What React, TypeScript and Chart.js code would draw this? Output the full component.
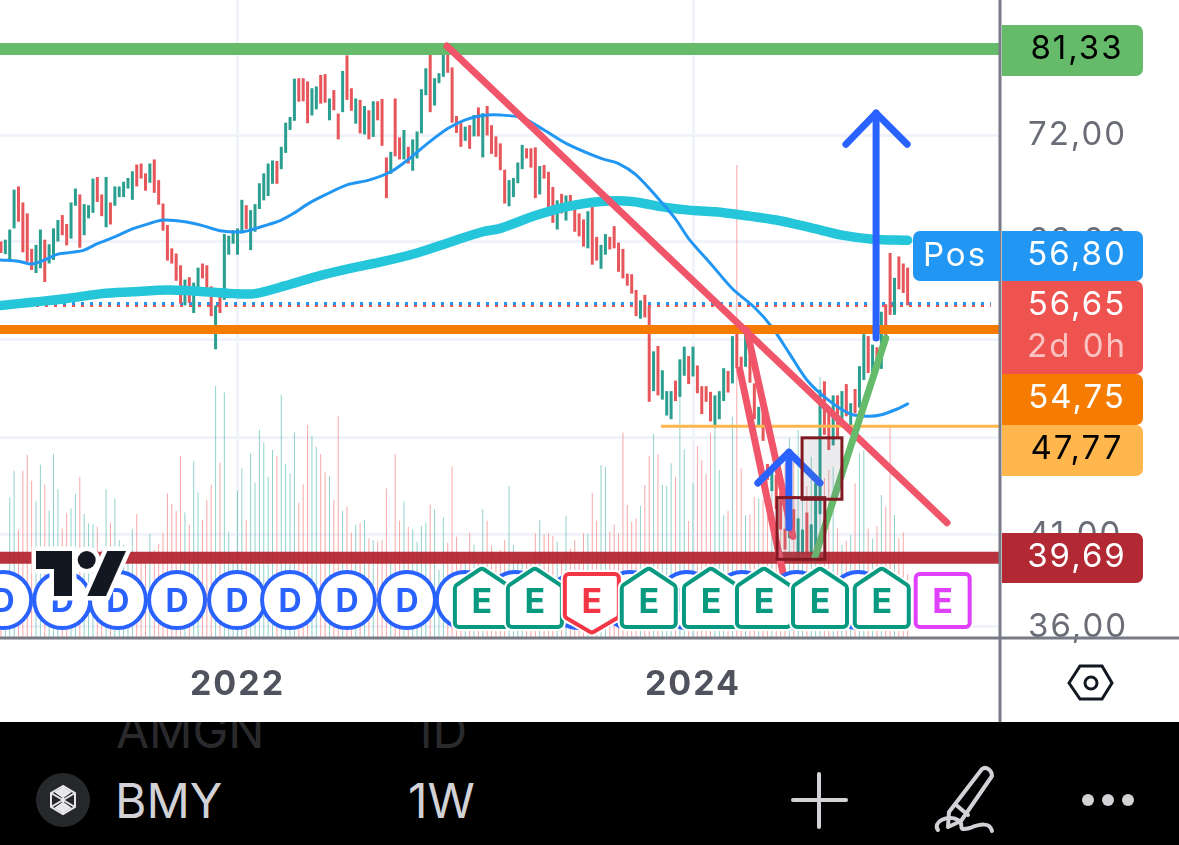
import React, { useEffect, useRef } from "react";
import { Chart, registerables } from "chart.js";

Chart.register(...registerables);

const firstWeek = -54;
const opens = [
  62.0, 60.9, 60.4, 63.15, 67.0, 65.5, 64.5, 61.35, 59.3, 59.7,
  62.15, 60.1, 60.4, 62.0, 64.35, 63.55, 62.25, 65.2, 66.25, 62.55,
  64.05, 64.55, 67.9, 66.25, 63.25, 65.5, 65.2, 66.0, 66.0, 66.8,
  65.75, 69.1, 69.2, 68.25, 67.35, 69.6, 67.6, 65.4, 63.45, 61.4,
  60.95, 59.95, 56.65, 58.95, 56.05, 58.1, 60.1, 59.95, 58.2, 53.25,
  57.7, 57.1, 60.85, 61.8, 60.85, 62.7, 65.25, 61.25, 62.85, 64.9,
  65.7, 66.1, 67.25, 69.45, 68.65, 70.25, 72.55, 73.5, 78.05, 78.05,
  77.7, 74.05, 74.7, 78.4, 78.5, 73.55, 76.75, 74.25, 74.4, 80.6,
  76.95, 73.2, 75.7, 72.1, 74.6, 71.85, 75.55, 75.8, 69.8, 68.2,
  75.85, 71.8, 69.6, 70.85, 68.5, 69.7, 72.2, 76.2, 81.0, 75.1,
  77.5, 78.2, 81.2, 79.25, 74.0, 73.25, 71.45, 73.05, 71.9, 74.9,
  69.8, 75.05, 73.05, 71.9, 71.2, 68.6, 65.15, 66.0, 67.3, 68.65,
  70.7, 70.7, 70.8, 66.25, 69.05, 68.4, 66.95, 63.05, 66.3, 63.85,
  66.2, 64.85, 64.5, 63.95, 61.4, 65.15, 62.4, 59.65, 60.85, 62.4,
  63.35, 61.9, 61.35, 59.25, 59.2, 57.9, 55.6, 57.5, 56.65, 50.2,
  53.5, 49.6, 48.5, 48.25, 50.95, 49.8, 51.3, 52.75, 51.25, 52.05,
  50.55, 50.55, 50.15, 47.7, 48.25, 49.5, 51.65, 50.75, 54.75, 52.7,
  51.95, 54.05, 50.75, 47.75, 49.5, 45.3, 43.6, 44.6, 43.5, 41.35,
  40.8, 42.5, 39.7, 39.9, 42.3, 39.6, 39.9, 42.2, 50.9, 48.75,
  46.5, 49.9, 47.8, 50.7, 47.6, 50.35, 49.05, 51.0, 54.25, 51.3,
  53.4, 51.8, 56.75, 61.0, 55.9, 60.7, 60.1, 59.75,
];
const closes = [
  61.0, 62.15, 63.05, 66.7, 63.75, 61.05, 60.25, 59.55, 61.7, 63.05,
  58.55, 61.75, 63.15, 63.9, 62.55, 61.65, 65.5, 66.8, 61.45, 65.35,
  65.25, 67.75, 65.55, 64.25, 67.9, 63.5, 67.0, 67.0, 67.45, 67.8,
  68.45, 67.0, 67.75, 66.6, 69.2, 66.4, 65.3, 62.95, 60.35, 60.1,
  58.65, 56.8, 58.75, 56.85, 58.5, 59.75, 58.85, 57.7, 55.8, 56.65,
  56.05, 62.65, 62.5, 63.0, 63.15, 65.75, 63.1, 64.8, 65.35, 67.3,
  68.25, 69.2, 69.5, 67.25, 70.85, 73.3, 73.9, 78.0, 75.5, 75.55,
  73.25, 76.95, 77.15, 75.3, 75.4, 75.85, 74.6, 71.6, 78.85, 75.7,
  74.55, 75.85, 72.2, 75.05, 71.6, 75.55, 73.55, 70.95, 65.9, 70.35,
  69.9, 69.6, 72.55, 69.2, 71.6, 72.4, 76.85, 79.15, 74.4, 78.05,
  78.6, 81.3, 78.65, 73.3, 72.25, 70.85, 72.9, 70.65, 74.1, 71.9,
  74.3, 72.0, 70.15, 69.85, 68.55, 65.4, 67.6, 67.8, 69.3, 71.05,
  69.7, 68.8, 65.9, 68.95, 67.75, 65.0, 63.65, 65.7, 64.5, 66.15,
  64.95, 62.85, 62.45, 61.55, 64.7, 60.0, 60.35, 61.7, 62.65, 61.3,
  61.4, 59.4, 58.85, 58.25, 57.6, 55.8, 57.05, 55.7, 49.45, 53.1,
  49.9, 51.7, 50.2, 50.2, 49.5, 52.5, 53.45, 50.7, 53.45, 50.05,
  48.6, 49.45, 48.1, 49.9, 50.2, 51.85, 50.1, 54.25, 51.85, 51.1,
  54.35, 50.8, 48.25, 49.1, 46.8, 44.3, 44.8, 42.5, 41.3, 40.15,
  42.9, 40.8, 41.95, 41.3, 39.8, 41.6, 44.1, 50.3, 47.2, 46.2,
  49.9, 47.0, 50.2, 48.45, 49.35, 48.65, 52.0, 54.4, 51.5, 53.6,
  51.8, 56.15, 53.95, 55.9, 58.9, 57.95, 57.65, 56.65,
];
const volumes = [
  15, 16, 35.2, 41.8, 27, 41.8, 45.8, 39.3, 34.1, 43.3,
  38.4, 31.8, 46, 37.2, 27.4, 31.2, 32.4, 36, 40.3, 31,
  28.7, 28.5, 27.8, 22, 37.2, 28.8, 34.8, 24.5, 23.3, 21.2,
  27.2, 31, 20.3, 18.7, 26, 22, 23.5, 26.3, 36.2, 33.5,
  31.8, 45.5, 31.4, 28.3, 44.1, 36.4, 29.5, 34.5, 38.3, 63,
  43.8, 61.4, 26.6, 19.5, 36.8, 42.4, 29.5, 46.2, 38.9, 52,
  48.9, 40.3, 47, 45.5, 60.8, 43.5, 41.2, 51.4, 33.8, 38.4,
  53.3, 50.5, 47.8, 46, 41.4, 40.5, 34.5, 55.5, 31.8, 32.8,
  26.3, 28.3, 28.8, 29.5, 24.9, 24.5, 24.1, 24.5, 37.4, 19.5,
  46, 29.3, 34.1, 27.8, 27.2, 24.1, 28, 28.9, 33.3, 32.2,
  17, 30.1, 23.8, 42.8, 25.3, 19.5, 20.8, 26.4, 23.3, 18.7,
  32.2, 29.3, 23.1, 20.3, 22, 24.5, 38, 23.25, 20.3, 20.3,
  19.5, 19.5, 26.2, 29.5, 25.9, 26.2, 25.5, 24.1, 19.5, 30.5,
  22.4, 24.5, 19.5, 26.2, 26, 36.3, 29.3, 43.25, 42.8, 26.6,
  28.4, 26.2, 51.4, 33.25, 29, 29.9, 33, 38.25, 45.5, 51,
  45.9, 38.25, 38, 43.7, 40.2, 60.3, 47.2, 29.25, 38.7, 48,
  44.5, 41, 51.2, 54.5, 42, 30.7, 31.75, 55.3, 118.25, 42.4,
  30.7, 30.9, 35.3, 34.9, 34.5, 40, 43.7, 35, 40, 43.7,
  50, 45, 52, 47.4, 38, 45.3, 40, 65.3, 40, 42,
  42.8, 27.4, 23.25, 24.3, 25.75, 38.7, 46.2, 47, 27.4, 24.9,
  28, 35.75, 32.8, 53.25, 30.75, 25, 26.4, 16,
];

const fastMaWeeks = [-54, -50, -47, -44, -41, -38, -35, -32, -28, -24, -20, -17, -12, -8, -4, 1, 5, 10, 13, 16, 20, 25, 30, 35, 39, 43, 48, 52, 56, 60, 65, 70, 75, 83, 87, 91, 96, 100, 103, 108, 113, 118, 122, 126, 130, 135, 140, 144, 147, 151, 153];
const fastMaValues = [60.4, 60.3, 60.05, 60.4, 60.9, 61.05, 61.25, 61.8, 62.4, 63.1, 63.6, 63.9, 63.75, 63.4, 62.95, 62.85, 63.25, 63.9, 64.55, 65.35, 66.2, 67.15, 67.6, 68.4, 69.6, 71.05, 72.7, 73.6, 74.05, 74.1, 73.8, 72.55, 71.2, 69.7, 69.2, 68.1, 65.9, 64.0, 62.25, 60.1, 58.0, 56.5, 54.95, 52.95, 51.0, 49.55, 48.6, 48.45, 48.55, 49.0, 49.3];
const slowMaWeeks = [-54, -47, -39, -31, -24, -16, -9, -1, 4, 11, 18, 26, 33, 41, 49, 56, 60, 68, 75, 83, 90, 97, 103, 109, 117, 123, 131, 138, 145, 153];
const slowMaValues = [56.65, 56.9, 57.2, 57.6, 57.75, 57.9, 57.8, 57.6, 57.6, 58.25, 59.0, 59.7, 60.25, 61.0, 62.0, 62.85, 63.15, 64.3, 65.1, 65.6, 65.6, 65.1, 64.8, 64.65, 64.25, 63.9, 63.2, 62.55, 62.2, 62.1];

const priceTicks = [72, 62, 54, 47, 41, 36];
const yearTicks = [0, 104];
const yearLabels = ["2022", "2024"];
const xMin = -54.22;
const xMax = 174.09;
const yMax = 87.15;
const yMin = 35.44;

const levelHigh = 81.33;
const levelPos = 56.8;
const levelLast = 56.65;
const levelOrange = 54.75;
const levelAmber = 47.77;
const amberStart = 96.7;
const levelLow = 39.69;

const downTrendWeeks = [47.8, 162];
const downTrendPrices = [81.67, 41.7];
const dropAWeeks = [114.7, 124.5];
const dropAPrices = [51.7, 38.9];
const dropBWeeks = [116.3, 126.8];
const dropBPrices = [54.7, 40.9];
const riseWeeks = [131.8, 148];
const risePrices = [39.7, 54.1];
const bigShaftWeeks = [145.8, 145.8];
const bigShaftPrices = [54.1, 74.3];
const bigHeadWeeks = [138.9, 145.8, 152.9];
const bigHeadPrices = [71.1, 74.3, 71.1];
const smallShaftWeeks = [125.9, 125.9];
const smallShaftPrices = [41.4, 46.06];
const smallHeadWeeks = [118.8, 125.9, 133];
const smallHeadPrices = [44.1, 46.06, 44.1];
const boxA = [123.2, 134.1, 43.2, 39.6];
const boxB = [128.9, 138, 47, 43.1];

const dividendWeeks = [-53.5, -40, -27.3, -13.8, -0.1, 12, 25, 38.7, 51.9, 63.4, 77.8, 89.6, 102.6, 115.2, 127.7, 141.7];
const earningsWeeks = [55.8, 67.9, 80.9, 93.9, 108.1, 120.2, 133, 147.1, 161];
const earningsKinds = ["up", "up", "down", "up", "up", "up", "up", "up", "next"];

const priceTags = [
  { top: 25, h: 51, bg: "#66bb6a", fg: "#000000", text: "81,33", sub: "" },
  { top: 231, h: 50, bg: "#2196f3", fg: "#ffffff", text: "56,80", sub: "" },
  { top: 281, h: 93, bg: "#ef5350", fg: "#ffffff", text: "56,65", sub: "2d 0h" },
  { top: 374, h: 51, bg: "#f57c00", fg: "#ffffff", text: "54,75", sub: "" },
  { top: 425, h: 51, bg: "#ffb74d", fg: "#000000", text: "47,77", sub: "" },
  { top: 533, h: 50, bg: "#b22833", fg: "#ffffff", text: "39,69", sub: "" },
];

const UP = "#2a9f90";
const DOWN = "#e6565a";
const FONT = "Inter, 'Noto Sans', sans-serif";

const pts = (xs: number[], ys: number[]) => xs.map((x, i) => ({ x, y: ys[i] }));

function roundPoly(ctx: CanvasRenderingContext2D, p: number[][], r: number) {
  ctx.beginPath();
  const n = p.length;
  const mx = (p[n - 1][0] + p[0][0]) / 2;
  const my = (p[n - 1][1] + p[0][1]) / 2;
  ctx.moveTo(mx, my);
  for (let i = 0; i < n; i++) {
    const a = p[i];
    const b = p[(i + 1) % n];
    ctx.arcTo(a[0], a[1], b[0], b[1], r);
  }
  ctx.closePath();
}

const overlayPlugin = {
  id: "overlay",
  beforeDraw(chart: any) {
    (chart.ctx as any).letterSpacing = "2px";
  },
  afterDatasetsDraw(chart: any) {
    const { ctx, scales } = chart;
    const x = scales.x;
    const y = scales.y;
    ctx.save();
    (ctx as any).letterSpacing = "0px";

    for (const b of [boxA, boxB]) {
      const l = x.getPixelForValue(b[0]);
      const r = x.getPixelForValue(b[1]);
      const t = y.getPixelForValue(b[2]);
      const u = y.getPixelForValue(b[3]);
      ctx.fillStyle = "rgba(120,123,134,0.14)";
      ctx.fillRect(l, t, r - l, u - t);
      ctx.strokeStyle = "#801922";
      ctx.lineWidth = 3;
      ctx.strokeRect(l, t, r - l, u - t);
    }

    const cy = 600;
    dividendWeeks.forEach((w) => {
      const cx = x.getPixelForValue(w);
      ctx.beginPath();
      ctx.arc(cx, cy, 28, 0, Math.PI * 2);
      ctx.fillStyle = "#ffffff";
      ctx.fill();
      ctx.lineWidth = 4;
      ctx.strokeStyle = "#2962ff";
      ctx.stroke();
      ctx.fillStyle = "#2962ff";
      ctx.font = `700 32px ${FONT}`;
      ctx.textAlign = "center";
      ctx.textBaseline = "middle";
      ctx.fillText("D", cx, cy + 2);
    });

    earningsWeeks.forEach((w, i) => {
      const cx = x.getPixelForValue(w);
      const kind = earningsKinds[i];
      let color = "#089981";
      let shape: number[][];
      if (kind === "up") {
        shape = [[cx, 568], [cx + 27, 586], [cx + 27, 627], [cx - 27, 627], [cx - 27, 586]];
      } else if (kind === "down") {
        color = "#f23645";
        shape = [[cx - 27, 574], [cx + 27, 574], [cx + 27, 617], [cx, 633], [cx - 27, 617]];
      } else {
        color = "#e040fb";
        shape = [[cx - 27, 574], [cx + 27, 574], [cx + 27, 627], [cx - 27, 627]];
      }
      roundPoly(ctx, shape, 4);
      ctx.lineWidth = 8;
      ctx.strokeStyle = "#ffffff";
      ctx.stroke();
      ctx.fillStyle = "#ffffff";
      ctx.fill();
      ctx.lineWidth = 4;
      ctx.strokeStyle = color;
      ctx.stroke();
      ctx.fillStyle = color;
      ctx.font = `700 34px ${FONT}`;
      ctx.textAlign = "center";
      ctx.textBaseline = "middle";
      ctx.fillText("E", cx, 603);
    });

    const t1 = new Path2D("M36 551 H72 V596 H54 V569 H36 Z");
    const t2 = new Path2D("M107.3 551 H126 L106 596 H87.3 Z");
    const t3 = new Path2D();
    t3.arc(86.7, 560, 9, 0, Math.PI * 2);
    ctx.strokeStyle = "#ffffff";
    ctx.lineWidth = 9;
    ctx.lineJoin = "miter";
    for (const s of [t1, t2, t3]) ctx.stroke(s);
    ctx.fillStyle = "#ffffff";
    ctx.fillRect(70, 548, 20, 24);
    ctx.fillStyle = "#131722";
    for (const s of [t1, t2, t3]) ctx.fill(s);
    ctx.restore();
  },
  afterDraw(chart: any) {
    const ctx = chart.ctx as CanvasRenderingContext2D;
    ctx.save();
    ctx.strokeStyle = "#787b86";
    ctx.lineWidth = 3;
    ctx.beginPath();
    ctx.moveTo(1000, 0);
    ctx.lineTo(1000, 722);
    ctx.moveTo(0, 638);
    ctx.lineTo(1179, 638);
    ctx.stroke();

    (ctx as any).letterSpacing = "2px";
    ctx.textAlign = "center";
    ctx.textBaseline = "middle";
    ctx.font = `400 33px ${FONT}`;

    ctx.fillStyle = "#2196f3";
    ctx.beginPath();
    ctx.roundRect(913, 231, 87, 50, [7, 0, 0, 7]);
    ctx.fill();
    ctx.fillStyle = "#ffffff";
    ctx.fillText("Pos", 955, 256);

    for (const t of priceTags) {
      ctx.fillStyle = t.bg;
      ctx.beginPath();
      ctx.roundRect(1002, t.top, 141, t.h, [0, 7, 7, 0]);
      ctx.fill();
      ctx.fillStyle = t.fg;
      ctx.fillText(t.text, 1077, t.top + 24);
      if (t.sub) {
        ctx.fillStyle = "rgba(255,255,255,0.65)";
        ctx.fillText(t.sub, 1077, t.top + 66);
      }
    }

    ctx.strokeStyle = "#131722";
    ctx.lineWidth = 3;
    ctx.beginPath();
    ctx.moveTo(1069, 683);
    ctx.lineTo(1080, 666);
    ctx.lineTo(1102, 666);
    ctx.lineTo(1112, 683);
    ctx.lineTo(1102, 699);
    ctx.lineTo(1080, 699);
    ctx.closePath();
    ctx.stroke();
    ctx.beginPath();
    ctx.arc(1091, 683, 6, 0, Math.PI * 2);
    ctx.stroke();
    ctx.restore();
  },
};

const lineDs = (data: any[], color: string, width: number, order: number, extra: any = {}) => ({
  type: "line",
  data,
  borderColor: color,
  borderWidth: width,
  pointRadius: 0,
  tension: 0,
  fill: false,
  order,
  yAxisID: "y",
  xAxisID: "x",
  ...extra,
});

export default function App() {
  const ref = useRef<HTMLCanvasElement | null>(null);
  useEffect(() => {
    const candleData = opens.map((o, i) => ({ x: firstWeek + i, y: [o, closes[i]] }));
    const candleColors = opens.map((o, i) => (closes[i] >= o ? UP : DOWN));
    const volumeData = volumes.map((v, i) => ({ x: firstWeek + i, y: v }));
    const volumeColors = opens.map((o, i) =>
      closes[i] >= o ? "rgba(38,166,154,0.5)" : "rgba(239,83,80,0.5)"
    );
    const round = { borderCapStyle: "round", borderJoinStyle: "round" };
    const chart = new Chart(ref.current as HTMLCanvasElement, {
      data: {
        datasets: [
          {
            type: "bar",
            data: volumeData,
            yAxisID: "vol",
            xAxisID: "x",
            backgroundColor: volumeColors,
            barThickness: 1,
            maxBarThickness: 1,
            grouped: false,
            inflateAmount: 0,
            borderWidth: 0,
            order: 20,
          },
          lineDs(pts([xMin, 172], [levelLast, levelLast]), "#ef5350", 3, 19, { borderDash: [3, 6] }),
          lineDs(pts([xMin, 172], [levelPos, levelPos]), "#2196f3", 3, 18, { borderDash: [3, 6] }),
          {
            type: "bar",
            data: candleData,
            yAxisID: "y",
            xAxisID: "x",
            backgroundColor: candleColors,
            barThickness: 3,
            maxBarThickness: 3,
            grouped: false,
            inflateAmount: 0,
            borderWidth: 0,
            order: 15,
          },
          lineDs(pts(slowMaWeeks, slowMaValues), "#26c6da", 9.5, 12, { tension: 0.3, ...round }),
          lineDs(pts(fastMaWeeks, fastMaValues), "#2196f3", 3, 11, { tension: 0.3, ...round }),
          lineDs(pts([xMin, xMax], [levelHigh, levelHigh]), "#66bb6a", 12, 10),
          lineDs(pts([xMin, xMax], [levelOrange, levelOrange]), "#f57c00", 9, 10),
          lineDs(pts([amberStart, xMax], [levelAmber, levelAmber]), "#ffb74d", 3, 10),
          lineDs(pts([xMin, xMax], [levelLow, levelLow]), "rgba(178,34,46,0.92)", 12, 10),
          lineDs(pts(downTrendWeeks, downTrendPrices), "#f0556a", 7, 9, round),
          lineDs(pts(dropAWeeks, dropAPrices), "#f0556a", 7, 9, round),
          lineDs(pts(dropBWeeks, dropBPrices), "#f0556a", 7, 9, round),
          lineDs(pts(riseWeeks, risePrices), "#66bb6a", 7, 8, round),
          lineDs(pts(bigShaftWeeks, bigShaftPrices), "#2962ff", 7, 7, round),
          lineDs(pts(bigHeadWeeks, bigHeadPrices), "#2962ff", 7, 7, round),
          lineDs(pts(smallShaftWeeks, smallShaftPrices), "#2962ff", 7, 7, round),
          lineDs(pts(smallHeadWeeks, smallHeadPrices), "#2962ff", 7, 7, round),
        ],
      } as any,
      options: {
        animation: false,
        responsive: false,
        layout: { padding: 0, autoPadding: false },
        plugins: { legend: { display: false }, tooltip: { enabled: false } },
        scales: {
          x: {
            type: "linear",
            offset: false,
            min: xMin,
            max: xMax,
            afterBuildTicks: (axis: any) => {
              axis.ticks = yearTicks.map((v) => ({ value: v }));
            },
            afterFit: (axis: any) => {
              axis.height = 84;
              axis.paddingLeft = 0;
              axis.paddingRight = 0;
            },
            grid: { color: "#f0f3fa", lineWidth: 3, drawTicks: false, offset: false },
            border: { display: false },
            ticks: {
              autoSkip: false,
              maxRotation: 0,
              padding: 26,
              color: "#50535e",
              font: { family: FONT, size: 34, weight: "700" },
              callback: (v: any) => yearLabels[yearTicks.indexOf(Number(v))] ?? "",
            },
          },
          y: {
            type: "logarithmic",
            position: "right",
            beginAtZero: false,
            min: yMin,
            max: yMax,
            afterBuildTicks: (axis: any) => {
              axis.ticks = priceTicks.map((v) => ({ value: v }));
            },
            afterFit: (axis: any) => {
              axis.width = 179;
              axis.paddingTop = 0;
              axis.paddingBottom = 0;
            },
            grid: { color: "#f0f3fa", lineWidth: 3, drawTicks: false },
            border: { display: false },
            ticks: {
              autoSkip: false,
              padding: 28,
              color: "#6a6d78",
              font: { family: FONT, size: 33 },
              callback: (v: any) => Number(v).toFixed(2).replace(".", ","),
            },
          },
          vol: {
            type: "linear",
            display: false,
            min: 0,
            max: 159.5,
            grid: { display: false },
          },
        },
      } as any,
      plugins: [overlayPlugin],
    } as any);
    return () => chart.destroy();
  }, []);

  const textStyle: React.CSSProperties = {
    position: "absolute",
    fontFamily: FONT,
    fontWeight: 400,
    whiteSpace: "nowrap",
    lineHeight: "1",
  };

  return (
    <div style={{ position: "fixed", left: 0, top: 0, width: 1179, height: 845, background: "#fff", overflow: "hidden" }}>
      <canvas ref={ref} width={1179} height={722} style={{ position: "absolute", left: 0, top: 0, width: 1179, height: 722 }} />
      <div style={{ position: "absolute", left: 0, top: 722, width: 1179, height: 123, background: "#000", overflow: "hidden" }}>
        <span style={{ ...textStyle, left: 116, top: -15, fontSize: 48, color: "#2a2a2d" }}>AMGN</span>
        <span style={{ ...textStyle, left: 413, top: -15, fontSize: 48, color: "#2a2a2d" }}>1D</span>
        <svg width={60} height={60} style={{ position: "absolute", left: 33, top: 48 }} viewBox="0 0 60 60">
          <circle cx={30} cy={30} r={27} fill="#26282c" />
          <g stroke="#e8e8ec" strokeWidth={2} fill="#e8e8ec">
            <polygon points="30,16 18,23 18,37 30,44 42,37 42,23" fill="none" />
            <line x1={30} y1={16} x2={30} y2={44} />
            <line x1={18} y1={23} x2={42} y2={37} />
            <line x1={42} y1={23} x2={18} y2={37} />
            <polygon points="30,18 23,22 30,27" />
            <polygon points="30,18 37,22 30,27" />
            <polygon points="30,42 23,38 30,33" />
            <polygon points="30,42 37,38 30,33" />
          </g>
        </svg>
        <span style={{ ...textStyle, left: 115, top: 55, fontSize: 48, color: "#d1d1d6" }}>BMY</span>
        <span style={{ ...textStyle, left: 408, top: 55, fontSize: 48, color: "#d1d1d6" }}>1W</span>
        <svg width={1179} height={123} style={{ position: "absolute", left: 0, top: 0 }}>
          <g stroke="#d1d1d6" strokeWidth={4} fill="none" strokeLinecap="round" strokeLinejoin="round">
            <line x1={793} y1={78} x2={846} y2={78} />
            <line x1={819} y1={52} x2={819} y2={105} />
            <path d="M982 47 C986 44 992 48 992 54 L961 99 L948 105 L949 90 Z M955 82 L968 93" />
            <path d="M938 108 C932 100 948 92 958 98 C966 102 955 110 970 106 C980 102 990 100 992 109" />
          </g>
          <g fill="#d1d1d6">
            <circle cx={1088} cy={78} r={6} />
            <circle cx={1108} cy={78} r={6} />
            <circle cx={1128} cy={78} r={6} />
          </g>
        </svg>
      </div>
    </div>
  );
}
